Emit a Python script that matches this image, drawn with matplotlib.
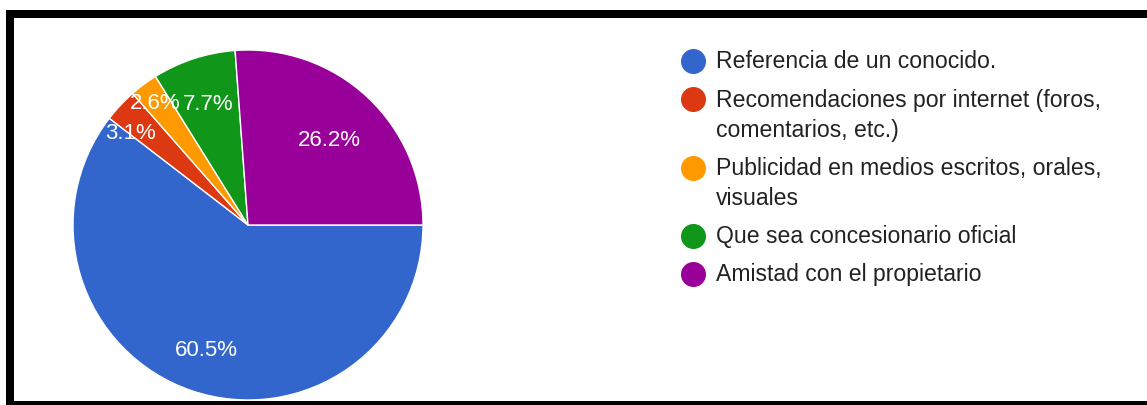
import matplotlib
matplotlib.use("Agg")
import matplotlib.pyplot as plt
from matplotlib.patches import Rectangle
from matplotlib.lines import Line2D
import numpy as np

plt.rcParams['font.family'] = ['Liberation Sans', 'DejaVu Sans']

categories = [
    "Referencia de un conocido.",
    "Recomendaciones por internet (foros,\ncomentarios, etc.)",
    "Publicidad en medios escritos, orales,\nvisuales",
    "Que sea concesionario oficial",
    "Amistad con el propietario",
]
percentages = [60.5, 3.1, 2.6, 7.7, 26.2]
colors = ["#3366cc", "#dc3912", "#ff9900", "#109618", "#990099"]
# label placement: radius fraction and angular nudge (degrees)
label_radius = [0.74, 0.865, 0.89, 0.74, 0.68]
label_nudge = [0, 4.3, 0, 0, 0]

W, H = 1147, 406
fig = plt.figure(figsize=(W / 100, H / 100), dpi=100)
fig.patch.set_facecolor("white")

# pie axes: center (248, 226) px, radius 175 px
cx, cy, r = 248, 226, 175
ax = fig.add_axes([(cx - r) / W, (H - cy - r) / H, 2 * r / W, 2 * r / H])
wedges, _ = ax.pie(percentages, colors=colors, startangle=0, counterclock=False,
                   radius=1.0, wedgeprops=dict(edgecolor="white", linewidth=1.0))
ax.set_xlim(-1, 1)
ax.set_ylim(-1, 1)
ax.set_aspect("equal")
ax.axis("off")

for w, pct, rad, nudge in zip(wedges, percentages, label_radius, label_nudge):
    mid = np.deg2rad((w.theta1 + w.theta2) / 2 + nudge)
    ax.text(rad * np.cos(mid), rad * np.sin(mid) - 0.012, f"{pct:.1f}%",
            ha="center", va="center", color="white", fontsize=16)

# legend
def fy(y):
    return 1 - y / H

y = 62
for label, col in zip(categories, colors):
    fig.add_artist(Line2D([693 / W], [fy(y)], marker="o", markersize=17,
                          color=col, linestyle="none", transform=fig.transFigure))
    lines = label.split("\n")
    for k, line in enumerate(lines):
        fig.text(716 / W, fy(y + 30.5 * k), line, ha="left", va="center",
                 fontsize=16.6, color="#222222")
    y = y + 30.5 * (len(lines) - 1) + 38

# black frame on top, left and bottom
fig.add_artist(Rectangle((6 / W, fy(19)), 1 - 6 / W, 8 / H, transform=fig.transFigure,
                         facecolor="black", edgecolor="none"))
fig.add_artist(Rectangle((6 / W, 0), 8 / W, fy(11), transform=fig.transFigure,
                         facecolor="black", edgecolor="none"))
fig.add_artist(Rectangle((6 / W, 0), 1 - 6 / W, 4 / H, transform=fig.transFigure,
                         facecolor="black", edgecolor="none"))

fig.savefig("out.png", dpi=100)
